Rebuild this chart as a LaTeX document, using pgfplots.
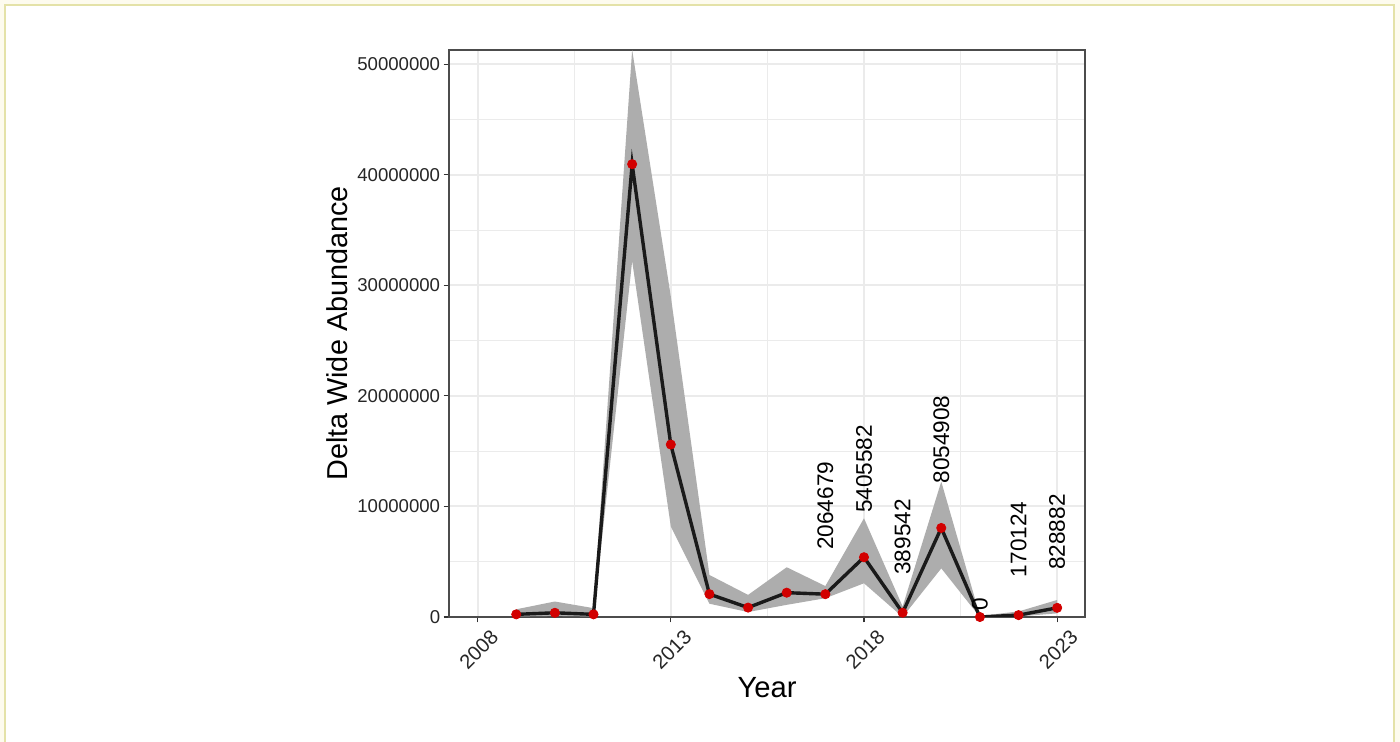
\documentclass[border=0pt]{standalone}
\usepackage{fontspec}
\setmainfont{Liberation Sans}
\usepackage{pgfplots}
\usepackage{pgfplotstable}
\pgfplotsset{compat=1.18}
\definecolor{cream}{RGB}{253,251,238}
\definecolor{frameY}{RGB}{228,226,168}
\definecolor{grid92}{RGB}{235,235,235}
\definecolor{ribbon}{RGB}{173,173,173}
\definecolor{ptred}{RGB}{210,0,0}
\definecolor{line}{RGB}{26,26,26}
\pgfplotstableread{
year val
2009 240000
2010 380000
2011 240000
2012 40960000
2013 15600000
2014 2070000
2015 850000
2016 2200000
2017 2064679
2018 5405582
2019 389542
2020 8054908
2021 0
2022 170124
2023 828882
}\datatab
% ribbon: upper bound forward, lower bound backward
\pgfplotstableread{
year bound
2009 700000
2010 1400000
2011 800000
2012 51300000
2013 29000000
2014 3800000
2015 2000000
2016 4500000
2017 2800000
2018 8930000
2019 950000
2020 12250000
2021 100000
2022 500000
2023 1540000
2023 330000
2022 50000
2021 0
2020 4400000
2019 0
2018 3050000
2017 1700000
2016 1100000
2015 450000
2014 1200000
2013 8200000
2012 32200000
2011 50000
2010 100000
2009 50000
}\ribbontab
\pgfplotstableread{
year val label
2017 2064679 2064679
2018 5405582 5405582
2019 389542 389542
2020 8054908 8054908
2021 0 0
2022 170124 170124
2023 828882 828882
}\labtab
\newsavebox{\hjbox}
\newcommand{\hj}[1]{\sbox{\hjbox}{#1}\hskip0.5\wd\hjbox\usebox{\hjbox}}
\begin{document}
\begin{tikzpicture}
\useasboundingbox (-224.5pt,-62.5pt) rectangle (475.5pt,308.5pt);
\fill[cream] (-224.5pt,-62.5pt) rectangle (475.5pt,308.5pt);
\filldraw[fill=white, draw=frameY, line width=0.8pt] (-222pt,-80pt) rectangle (472.5pt,306pt);
\begin{axis}[
  at={(0,0)}, anchor=south west,
  width=318pt, height=283.5pt, scale only axis,
  xmin=2007.26, xmax=2023.72, ymin=0, ymax=51290000,
  xtick={2008,2013,2018,2023},
  xticklabels={2008,2013,2018,2023},
  minor xtick={2010.5,2015.5,2020.5},
  ytick={0,10000000,20000000,30000000,40000000,50000000},
  yticklabels={0,10000000,20000000,30000000,40000000,50000000},
  minor ytick={5000000,15000000,25000000,35000000,45000000},
  scaled y ticks=false,
  grid=both,
  major grid style={draw=grid92, line width=1pt},
  minor grid style={draw=grid92, line width=0.5pt},
  axis line style={draw=black!70, line width=0.6pt},
  tick align=outside,
  xtick pos=bottom, ytick pos=left,
  major tick length=2.75pt, minor tick length=0pt,
  tick style={draw=black!80, line width=0.6pt},
  xticklabel style={xshift=6pt, yshift=-1.5pt, rotate=45, anchor=north east, inner sep=1pt, font=\fontsize{10.1}{12}\selectfont, text=black!85},
  yticklabel style={inner sep=1.5pt, font=\fontsize{9.3}{11}\selectfont, text=black!85},
  xlabel={Year},
  ylabel={Delta Wide Abundance},
  xlabel style={at={(axis description cs:0.5,-0.125)}, anchor=center, font=\fontsize{14.6}{16}\selectfont},
  ylabel style={at={(axis description cs:-0.176,0.5)}, anchor=center, rotate=0, font=\fontsize{14.4}{16}\selectfont},
]
\addplot[fill=ribbon, draw=none] table[x=year, y=bound] {\ribbontab};
\addplot[only marks, mark=*, mark size=2.3pt, color=ptred] table[x=year, y=val] {\datatab};
\addplot[line, line width=1.7pt] table[x=year, y=val] {\datatab};
\addplot[only marks, mark=none, point meta=explicit symbolic,
  nodes near coords={\hj{\pgfplotspointmeta}},
  every node near coord/.append style={rotate=90, anchor=west, inner sep=0pt, font=\fontsize{11.3}{13}\selectfont, text=black}]
  table[x=year, y=val, meta=label] {\labtab};
\end{axis}
\end{tikzpicture}
\end{document}
